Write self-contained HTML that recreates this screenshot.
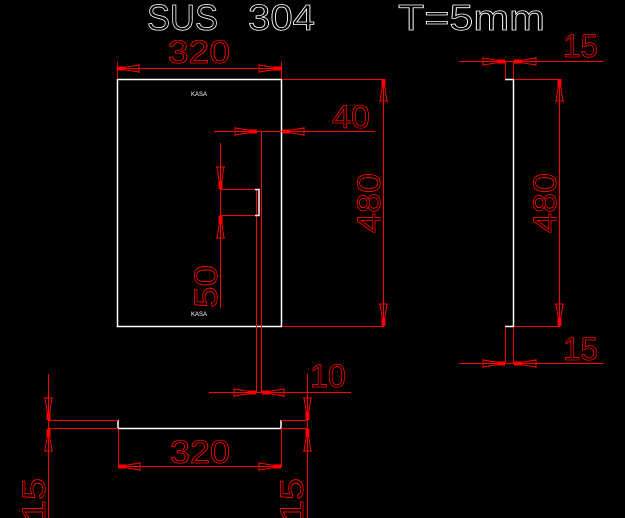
<!DOCTYPE html>
<html><head><meta charset="utf-8"><style>
html,body{margin:0;padding:0;background:#000;width:625px;height:518px;overflow:hidden}
svg{display:block}
.r{stroke:#f00;stroke-width:1;fill:none}
.w{stroke:#fff;stroke-width:1.5;fill:none}
.t{font-family:"Liberation Sans",sans-serif;fill:none;stroke:#f00;stroke-width:0.8;font-size:32px}
.tw{font-family:"Liberation Sans",sans-serif;fill:none;stroke:#fff;stroke-width:0.8;font-size:36px}
</style></head><body>
<svg width="625" height="518" viewBox="0 0 625 518" xmlns="http://www.w3.org/2000/svg">
<defs>
<g id="a"><polygon points="0,0 -22,-3.5 -22,3.5" fill="none" stroke="#f00" stroke-width="1"/><line x1="-22" y1="-4.5" x2="-22" y2="4.5" stroke="#f00"/><rect x="-8" y="-2" width="8" height="4" fill="#f00"/></g>
</defs>
<text class="tw" x="147" y="30" textLength="71" lengthAdjust="spacingAndGlyphs">SUS</text>
<text class="tw" x="248" y="30" textLength="67" lengthAdjust="spacingAndGlyphs">304</text>
<text class="tw" x="398" y="30" textLength="147" lengthAdjust="spacingAndGlyphs">T=5mm</text>

<rect class="w" x="117.5" y="79.5" width="164" height="247"/>
<text x="199" y="96" fill="#fff" font-family="Liberation Sans,sans-serif" font-size="6" text-anchor="middle">KASA</text>
<text x="199" y="316" fill="#fff" font-family="Liberation Sans,sans-serif" font-size="6" text-anchor="middle">KASA</text>
<path class="r" d="M117.5 62V79M281.5 62V79M117 68.5H282"/>
<use href="#a" transform="translate(117,68.5) rotate(180)"/>
<use href="#a" transform="translate(281,68.5)"/>
<text class="t" x="168" y="63" textLength="62" lengthAdjust="spacingAndGlyphs">320</text>
<path class="r" d="M282 79.5H384M282 326.5H384M383.5 79V327"/>
<use href="#a" transform="translate(383.5,79) rotate(-90)"/>
<use href="#a" transform="translate(383.5,326) rotate(90)"/>
<text class="t" transform="translate(380,233) rotate(-90)" textLength="60" lengthAdjust="spacingAndGlyphs">480</text>
<path class="r" d="M214 131.5H375M261.5 131V392M256.5 190V392"/>
<use href="#a" transform="translate(257,131.5)"/>
<use href="#a" transform="translate(282,131.5) rotate(180)"/>
<text class="t" x="332" y="128" textLength="38" lengthAdjust="spacingAndGlyphs">40</text>
<path class="r" d="M220 189.5H256M220 215.5H256"/>
<path class="w" d="M255 189.5H259V215.5H255" stroke-width="1"/>
<path class="r" d="M220.5 143V308"/>
<use href="#a" transform="translate(220.5,189) rotate(90)"/>
<use href="#a" transform="translate(220.5,216) rotate(-90)"/>
<text class="t" transform="translate(217,308) rotate(-90)" textLength="43" lengthAdjust="spacingAndGlyphs">50</text>
<path class="r" d="M209 392.5H351"/>
<use href="#a" transform="translate(256,392.5)"/>
<use href="#a" transform="translate(262,392.5) rotate(180)"/>
<text class="t" x="310" y="387" textLength="36" lengthAdjust="spacingAndGlyphs">10</text>

<path class="w" d="M118 420V428.5H281V420" stroke-width="1.2"/>
<path class="r" d="M48 420.5H118M48 428.5H118M281 420.5H307M281 428.5H307M48.5 374V518M307.5 374V518"/>
<use href="#a" transform="translate(48.5,420) rotate(90)"/>
<use href="#a" transform="translate(48.5,429) rotate(-90)"/>
<use href="#a" transform="translate(307.5,420) rotate(90)"/>
<use href="#a" transform="translate(307.5,429) rotate(-90)"/>
<path class="r" d="M118.5 429V467M281.5 429V467M118 466.5H281"/>
<use href="#a" transform="translate(118,466.5) rotate(180)"/>
<use href="#a" transform="translate(281,466.5)"/>
<text class="t" x="170" y="463" textLength="60" lengthAdjust="spacingAndGlyphs">320</text>
<text class="t" transform="translate(45,522) rotate(-90)" textLength="44" lengthAdjust="spacingAndGlyphs">15</text>
<text class="t" transform="translate(303,522) rotate(-90)" textLength="44" lengthAdjust="spacingAndGlyphs">15</text>

<path class="w" d="M505 79.5H513.5V326.5H505" stroke-width="1.2"/>
<path class="r" d="M505.5 61V79M513.5 61V79M505.5 327V363M513.5 327V363M514 79.5H560M514 326.5H560M559.5 79V327M459 61.5H603M459 363.5H603"/>
<use href="#a" transform="translate(505,61.5)"/>
<use href="#a" transform="translate(514,61.5) rotate(180)"/>
<use href="#a" transform="translate(505,363.5)"/>
<use href="#a" transform="translate(514,363.5) rotate(180)"/>
<use href="#a" transform="translate(559.5,79) rotate(-90)"/>
<use href="#a" transform="translate(559.5,326) rotate(90)"/>
<text class="t" transform="translate(556,233) rotate(-90)" textLength="60" lengthAdjust="spacingAndGlyphs">480</text>
<text class="t" x="563" y="57" textLength="35" lengthAdjust="spacingAndGlyphs">15</text>
<text class="t" x="563" y="360" textLength="35" lengthAdjust="spacingAndGlyphs">15</text>
</svg>
</body></html>
